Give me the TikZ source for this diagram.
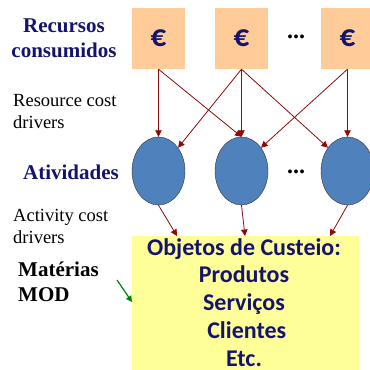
\documentclass[tikz,border=0pt]{standalone}
\usepackage{fontspec}
\setmainfont{Liberation Serif}
\newfontfamily\calfont{Carlito}
\usetikzlibrary{arrows.meta,shapes.geometric}
\definecolor{navy}{RGB}{20,20,110}
\definecolor{peach}{RGB}{255,204,153}
\definecolor{actblue}{RGB}{79,129,189}
\definecolor{paleyellow}{RGB}{255,255,153}
\definecolor{arrowred}{RGB}{140,10,10}
\definecolor{arrowgreen}{RGB}{0,128,0}
\tikzset{
	res/.style={fill=peach, minimum width=53pt, minimum height=61pt, inner sep=0pt, text=navy, font=\calfont\bfseries\fontsize{31}{31}\selectfont},
	act/.style={ellipse, draw=black!80, fill=actblue, minimum width=53pt, minimum height=68pt, inner sep=0pt},
	link/.style={draw=arrowred, line width=0.8pt, -{Triangle[width=6.5pt,length=6.5pt]}},
	lbl/.style={font=\fontsize{18.5}{22}\selectfont, align=left, anchor=west, inner sep=0pt},
	title/.style={font=\bfseries\fontsize{21}{25}\selectfont, text=navy, align=center, inner sep=0pt},
	dotsnode/.style={font=\bfseries\fontsize{24}{24}\selectfont, inner sep=0pt}
}
\begin{document}
\begin{tikzpicture}[x=1pt, y=-1pt]
			%%%%% START %%%%%
			\useasboundingbox (0,0) rectangle (370,370);
			\clip (0,0) rectangle (370,370);
			
			% resources
			\node[res] (r1) at (158.5,38.5) {€};
			\node[res] (r2) at (241.5,38.5) {€};
			\node[res] (r3) at (347.5,38.5) {€};
			\node[dotsnode] (rdots) at (296,37) {...};
			
			% activities
			\node[act] (e1) at (158.5,171) {};
			\node[act] (e2) at (241.5,171) {};
			\node[act] (e3) at (347.5,171) {};
			\node[dotsnode] (adots) at (296,172) {...};
			
			% cost objects
			\node[fill=paleyellow, minimum width=227pt, minimum height=145pt, inner sep=0pt] (obj) at (245.5,308.5) {};
			\node[text=navy, font=\calfont\bfseries\fontsize{24}{27.8}\selectfont, align=center, inner sep=0pt, anchor=north] (objtxt) at (244,238)
				{Objetos de Custeio:\\Produtos\\Servi\c{c}os\\\ Clientes\\Etc.};
			
			% labels
			\node[title] (rc) at (64,38) {Recursos\\consumidos};
			\node[lbl] (rcd) at (13,112) {Resource cost\\drivers};
			\node[title] (at) at (71,172) {Atividades};
			\node[lbl] (acd) at (13,226) {Activity cost\\drivers};
			\node[lbl, font=\bfseries\fontsize{21}{25}\selectfont] (mm) at (18,282) {Mat\'erias\\MOD};
			
			% resource cost drivers
			\draw[link] (r1.south) -- (e1.north);
			\draw[link] (r1.south) -- (e2.north);
			\draw[link] (r2.south) -- (e1.50);
			\draw[link] (r2.south) -- (e2.north);
			\draw[link] (r2.south) -- (e3.130);
			\draw[link] (r3.south) -- (e2.50);
			\draw[link] (r3.south) -- (e3.north);
			
			% activity cost drivers
			\coordinate (o1) at (177,236);
			\coordinate (o2) at (245,236);
			\coordinate (o3) at (330,236);
			\draw[link] (e1.south) -- (o1);
			\draw[link] (e2.south) -- (o2);
			\draw[link] (e3.south) -- (o3);
			
			% direct costs
			\coordinate (g1) at (117,280);
			\coordinate (g2) at (132,302);
			\draw[draw=arrowgreen, line width=1.2pt, -{Triangle[width=6pt,length=6pt]}] (g1) -- (g2);
			%%%%% END %%%%%
\end{tikzpicture}
\end{document}
